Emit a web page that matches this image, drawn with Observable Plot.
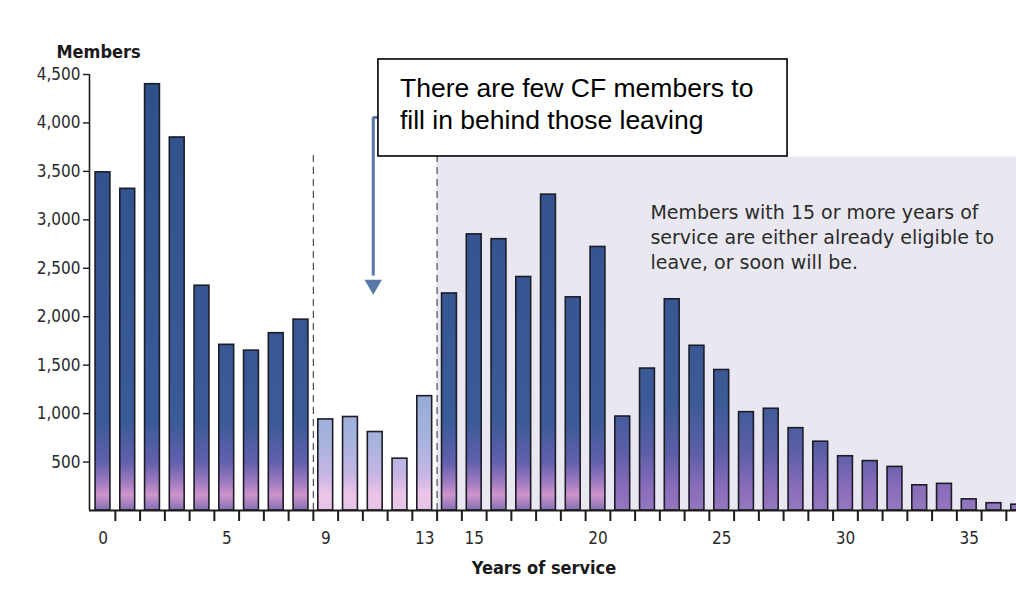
<!DOCTYPE html>
<html>
<head>
<meta charset="utf-8">
<script src="https://cdn.jsdelivr.net/npm/d3@7"></script>
<script src="https://cdn.jsdelivr.net/npm/@observablehq/plot@0.6"></script>
<style>
  html, body { margin: 0; padding: 0; background: #ffffff; }
  #chart { width: 1016px; height: 598px; overflow: hidden; }
</style>
</head>
<body>
<div id="chart"></div>
<script>
// ---- data ----
const years = [0,1,2,3,4,5,6,7,8,9,10,11,12,13,14,15,16,17,18,19,20,21,22,23,24,25,26,27,28,29,30,31,32,33,34,35,36,37];
const members = [3490,3320,4400,3850,2320,1710,1650,1830,1970,940,965,810,535,1180,2240,2850,2800,2410,3260,2200,2720,970,1465,2180,1700,1450,1015,1050,850,710,560,510,450,260,275,115,75,60];
const yTicks = [500,1000,1500,2000,2500,3000,3500,4000,4500];
const xTickLabels = [0,5,9,13,15,20,25,30,35];
const xTickMarks = [0.5,1.5,2.5,3.5,4.5,5.5,6.5,7.5,8.5,9.5,10.5,11.5,12.5,13.5,14.5,15.5,16.5,17.5,18.5,19.5,20.5,21.5,22.5,23.5,24.5,25.5,26.5,27.5,28.5,29.5,30.5,31.5,32.5,33.5,34.5,35.5,36.5];
const dividers = [8.5, 13.5];
const yLabel = "Members";
const xLabel = "Years of service";
const boxText = "There are few CF members to\nfill in behind those leaving";
const sideText = "Members with 15 or more years of\nservice are either already eligible to\nleave, or soon will be.";

// annotation anchors in data units (years, members)
const xDomain = [-0.545, 36.91];
const shadeZone = {x1: 13.5, x2: 36.91, y1: 0, y2: 3650};
const dividerTop = 3680;
const noteBox = {x1: 11.13, x2: 27.66, y1: 3654, y2: 4655, tx: 12.0, ty: 4507};
const arrow = {x: 10.92, xHook: 11.13, yTop: 4056, yStem: 2420, yHead: 2330};
const sideNote = {x: 22.12, y: 3200};

const rows = years.map((year, i) => ({year, value: members[i]}));
const lightYears = [9, 10, 11, 12, 13];

const narrow = "'Liberation Sans Narrow', 'DejaVu Sans Condensed', 'Arial Narrow', sans-serif";

const chart = Plot.plot({
  width: 1016,
  height: 598,
  marginLeft: 89,
  marginRight: 0,
  marginTop: 74,
  marginBottom: 88,
  style: {background: "transparent", fontFamily: narrow, color: "#2a2a2a"},
  x: {type: "linear", domain: xDomain, axis: null},
  y: {domain: [0, 4500], axis: null},
  marks: [
    Plot.rect([shadeZone], {x1: "x1", x2: "x2", y1: "y1", y2: "y2", fill: "#e9e8f1"}),
    Plot.ruleX(dividers, {y1: 0, y2: dividerTop, stroke: "#4a4a55", strokeWidth: 1.2, strokeDasharray: "7,5"}),
    Plot.rect(rows, {
      x1: d => d.year - 0.3,
      x2: d => d.year + 0.3,
      y1: 0,
      y2: "value",
      fill: d => lightYears.includes(d.year) ? "url(#gradLight)" : d.year >= 21 ? "url(#gradRight)" : "url(#gradDark)",
      stroke: "#1d1d28",
      strokeWidth: 1.6,
      clip: true
    }),
    Plot.ruleY([0], {stroke: "#1d1d1d", strokeWidth: 2.2}),
    Plot.ruleX([xDomain[0]], {y1: 0, y2: 4500, stroke: "#1d1d1d", strokeWidth: 1.6}),
    Plot.axisY({ticks: yTicks, tickSize: 6, tickPadding: 3, tickFormat: d3.format(","), fontSize: 17, label: null, stroke: "#1d1d1d", strokeWidth: 1.4}),
    Plot.axisX({ticks: xTickMarks, tickSize: 11, tickFormat: () => "", label: null, stroke: "#1d1d1d", strokeWidth: 2}),
    Plot.axisX({ticks: xTickLabels, tickSize: 0, tickPadding: 21, fontSize: 17, label: null}),
    // arrow
    Plot.ruleX([arrow], {x: "x", y1: "yTop", y2: "yStem", stroke: "#5878a8", strokeWidth: 3}),
    Plot.ruleY([arrow], {y: "yTop", x1: "x", x2: "xHook", stroke: "#5878a8", strokeWidth: 3}),
    Plot.dot([arrow], {x: "x", y: "yHead", symbol: "triangle", rotate: 180, r: 5.5, fill: "#5878a8", stroke: "#5878a8"}),
    // note box
    Plot.rect([noteBox], {x1: "x1", x2: "x2", y1: "y1", y2: "y2", fill: "white", stroke: "#000", strokeWidth: 1.6}),
    Plot.text([noteBox], {x: "tx", y: "ty", text: () => boxText, textAnchor: "start", lineAnchor: "top", lineHeight: 1.21, fontSize: 26.5, fontFamily: "'Liberation Sans', Arial, sans-serif", fill: "#000"}),
    // side note
    Plot.text([sideNote], {x: "x", y: "y", text: () => sideText, textAnchor: "start", lineAnchor: "top", lineHeight: 1.34, fontSize: 19, fontFamily: "'DejaVu Sans', sans-serif", fill: "#2b2b2b"}),
    // axis titles
    Plot.text([yLabel], {text: d => d, frameAnchor: "top-left", dx: 9, dy: -29, textAnchor: "middle", fontSize: 18, fontWeight: "bold", fill: "#1a1a1a"}),
    Plot.text([xLabel], {text: d => d, frameAnchor: "bottom", dx: -9, dy: 63, textAnchor: "middle", fontSize: 18, fontWeight: "bold", fill: "#1a1a1a"})
  ]
});

// gradients in user space so every bar shares the same vertical colour band
const yS = chart.scale("y");
const yTop = yS.apply(4500), yBase = yS.apply(0);
const defs = d3.select(chart).insert("defs", ":first-child");
function grad(id, stops) {
  const g = defs.append("linearGradient").attr("id", id)
    .attr("gradientUnits", "userSpaceOnUse")
    .attr("x1", 0).attr("x2", 0).attr("y1", yTop).attr("y2", yBase);
  stops.forEach(([o, c]) => g.append("stop").attr("offset", o).attr("stop-color", c));
}
grad("gradDark", [[0, "#2f5089"], [0.80, "#3b5a98"], [0.89, "#6260ad"], [0.94, "#a57dc2"], [0.965, "#cf95cd"], [1, "#8270b3"]]);
grad("gradLight", [[0, "#8aa3cf"], [0.72, "#94aad5"], [0.85, "#a9b4de"], [0.92, "#c7b5e4"], [0.965, "#eec5e8"], [1, "#e3c4e6"]]);
grad("gradRight", [[0, "#2f4f88"], [0.75, "#3b5a96"], [0.87, "#5d5fa8"], [0.95, "#8a6cba"], [1, "#9478be"]]);

document.getElementById("chart").appendChild(chart);
</script>
</body>
</html>
